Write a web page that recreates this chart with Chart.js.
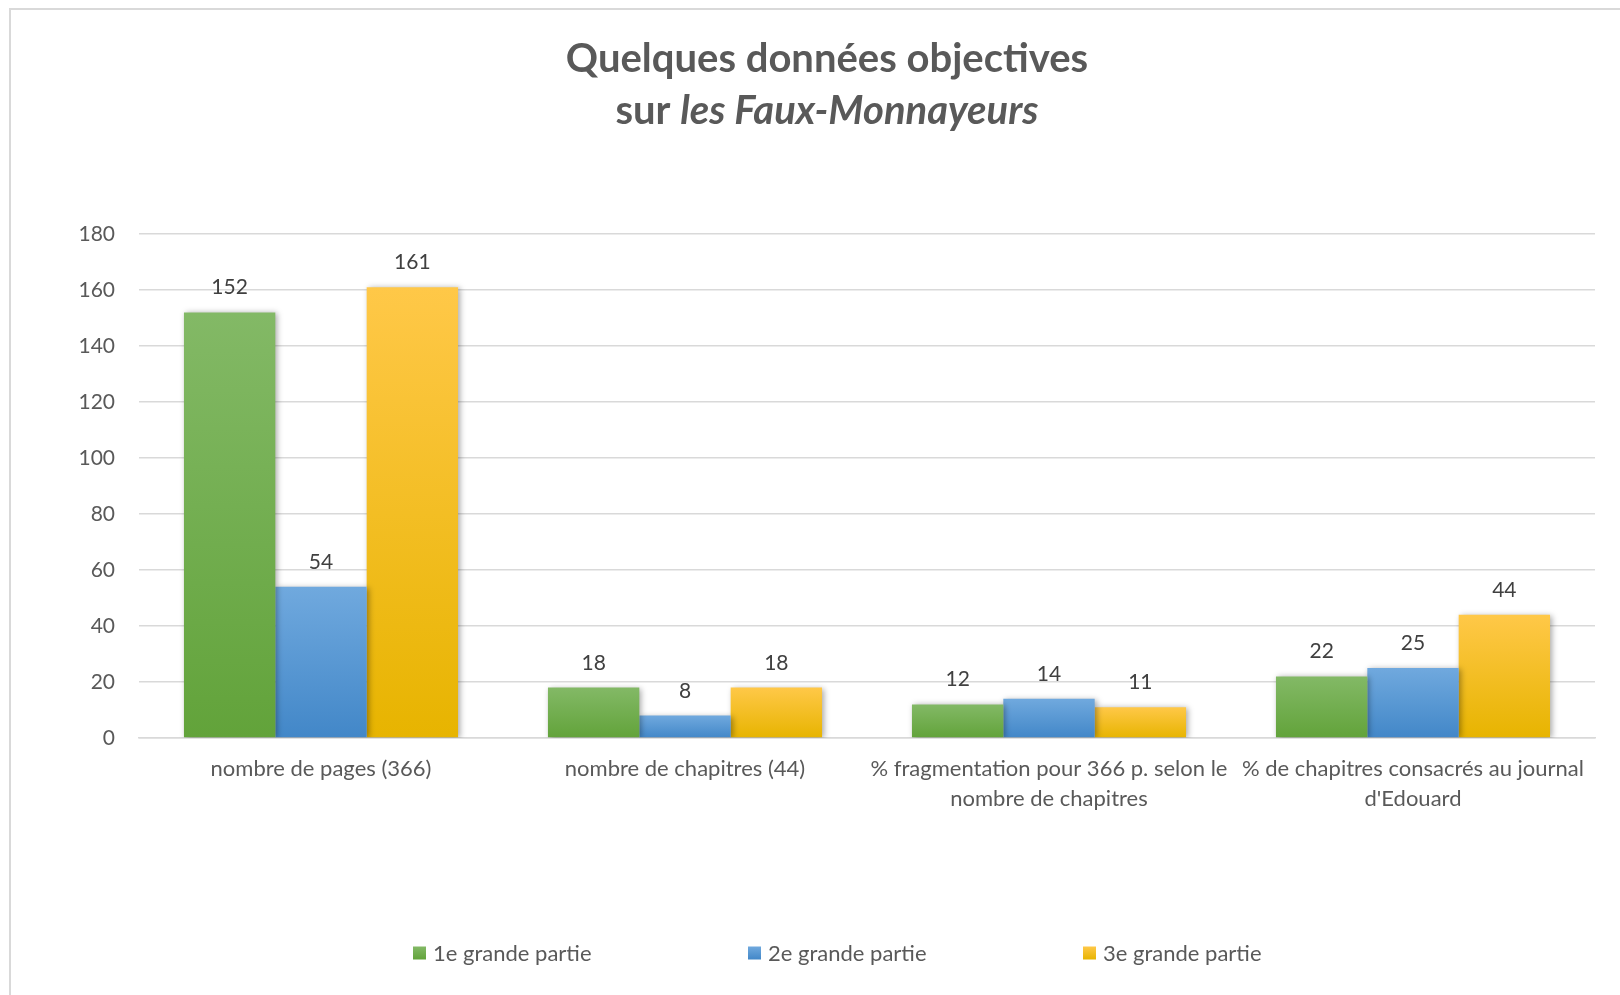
<!DOCTYPE html>
<html>
<head>
<meta charset="utf-8">
<title>Quelques données objectives</title>
<script src="https://cdn.jsdelivr.net/npm/chart.js@4/dist/chart.umd.min.js"></script>
<style>
  html, body { margin: 0; padding: 0; background: #fff; overflow: hidden; }
  #frame { position: absolute; left: 9px; top: 8px; width: 1700px; height: 1100px;
           border-left: 2px solid #d9d9d9; border-top: 2px solid #d9d9d9; }
  #wrap { position: absolute; left: 0; top: 0; width: 1620px; height: 995px; }
</style>
</head>
<body>
<div id="frame"></div>
<div id="wrap"><canvas id="chart" width="1620" height="995"></canvas></div>
<script>
// Data
const categories = [
    'nombre de pages (366)',
    'nombre de chapitres (44)',
    ['% fragmentation pour 366 p. selon le', 'nombre de chapitres'],
    ['% de chapitres consacrés au journal', "d'Edouard"]
];
const seriesNames = ['1e grande partie', '2e grande partie', '3e grande partie'];
const part1 = [152, 18, 12, 22];
const part2 = [54, 8, 14, 25];
const part3 = [161, 18, 11, 44];
const titleLine1 = 'Quelques données objectives';
const titleLine2 = ['sur ', 'les Faux-Monnayeurs'];

// gradient colours per series (top, bottom)
const colorsTop = ['#83b966', '#70a9de', '#ffc848'];
const colorsBottom = ['#62a33a', '#4287c8', '#e7b400'];

const FONT = 'Lato';
const TEXT = '#595959';

// Each bar gets its own vertical gradient, like the Office chart
function barGradient(i) {
    return function (context) {
        const chart = context.chart;
        if (!chart.chartArea || context.type !== 'data') return colorsBottom[i];
        const y = chart.scales.y;
        const top = y.getPixelForValue(context.raw);
        const base = y.getPixelForValue(0);
        const g = chart.ctx.createLinearGradient(0, top, 0, base);
        g.addColorStop(0, colorsTop[i]);
        g.addColorStop(1, colorsBottom[i]);
        return g;
    };
}

// soft shadow behind the bars
const barShadow = {
    id: 'barShadow',
    beforeDatasetsDraw(chart) {
        const c = chart.ctx;
        c.save();
        c.shadowColor = 'rgba(0, 0, 0, 0.35)';
        c.shadowBlur = 6;
        c.shadowOffsetX = 2;
        c.shadowOffsetY = 1;
    },
    afterDatasetsDraw(chart) {
        chart.ctx.restore();
    }
};

// value above every bar
const valueLabels = {
    id: 'valueLabels',
    afterDraw(chart) {
        const c = chart.ctx;
        c.save();
        c.font = '21px ' + FONT;
        c.fillStyle = '#404040';
        c.textAlign = 'center';
        c.textBaseline = 'alphabetic';
        chart.data.datasets.forEach((ds, i) => {
            chart.getDatasetMeta(i).data.forEach((bar, j) => {
                c.fillText(String(ds.data[j]), bar.x, bar.y - 18);
            });
        });
        c.restore();
    }
};

// two-line title, second part in italic
const mixedTitle = {
    id: 'mixedTitle',
    afterDraw(chart) {
        const c = chart.ctx;
        const cx = 827;
        const size = 40;
        c.save();
        c.fillStyle = TEXT;
        c.textBaseline = 'alphabetic';
        c.textAlign = 'center';
        c.font = 'bold ' + size + 'px ' + FONT;
        c.fillText(titleLine1, cx, 72);

        const wa = c.measureText(titleLine2[0]).width;
        c.font = 'italic bold ' + size + 'px ' + FONT;
        const wb = c.measureText(titleLine2[1]).width;
        const x = cx - (wa + wb) / 2;
        c.textAlign = 'left';
        c.font = 'bold ' + size + 'px ' + FONT;
        c.fillText(titleLine2[0], x, 124);
        c.font = 'italic bold ' + size + 'px ' + FONT;
        c.fillText(titleLine2[1], x + wa, 124);
        c.restore();
    }
};

// widely spaced legend at the bottom
const spacedLegend = {
    id: 'spacedLegend',
    afterDraw(chart) {
        const c = chart.ctx;
        const y = 953, box = 13, gap = 7, step = 335;
        let x = 413;
        c.save();
        c.font = '22px ' + FONT;
        c.textBaseline = 'middle';
        c.textAlign = 'left';
        chart.data.datasets.forEach((ds, i) => {
            const g = c.createLinearGradient(0, y - box / 2, 0, y + box / 2);
            g.addColorStop(0, colorsTop[i]);
            g.addColorStop(1, colorsBottom[i]);
            c.fillStyle = g;
            c.fillRect(x, y - box / 2, box, box);
            c.fillStyle = TEXT;
            c.fillText(ds.label, x + box + gap, y + 1);
            x += step;
        });
        c.restore();
    }
};

const seriesValues = [part1, part2, part3];

new Chart(document.getElementById('chart'), {
    type: 'bar',
    data: {
        labels: categories,
        datasets: seriesValues.map((vals, i) => ({
            label: seriesNames[i],
            data: vals,
            backgroundColor: barGradient(i),
            borderWidth: 0,
            categoryPercentage: 0.753,
            barPercentage: 1
        }))
    },
    options: {
        responsive: false,
        devicePixelRatio: 1,
        animation: false,
        layout: { padding: { top: 234, right: 25, left: 0, bottom: 0 } },
        plugins: {
            legend: { display: false },
            title: { display: false },
            tooltip: { enabled: false }
        },
        scales: {
            x: {
                grid: { display: false },
                border: { display: true, color: '#d9d9d9', width: 1.5 },
                ticks: {
                    color: TEXT,
                    font: { family: FONT, size: 22, lineHeight: 1.36 },
                    padding: 8,
                    maxRotation: 0,
                    minRotation: 0,
                    autoSkip: false
                },
                afterFit(scale) { scale.height = 257; }
            },
            y: {
                min: 0,
                max: 180,
                ticks: {
                    stepSize: 20,
                    color: TEXT,
                    font: { family: FONT, size: 21 },
                    padding: 24
                },
                grid: { color: '#d9d9d9', lineWidth: 1.5, drawTicks: false },
                border: { display: false },
                afterFit(scale) { scale.width = 139; }
            }
        }
    },
    plugins: [barShadow, valueLabels, mixedTitle, spacedLegend]
});
</script>
</body>
</html>
